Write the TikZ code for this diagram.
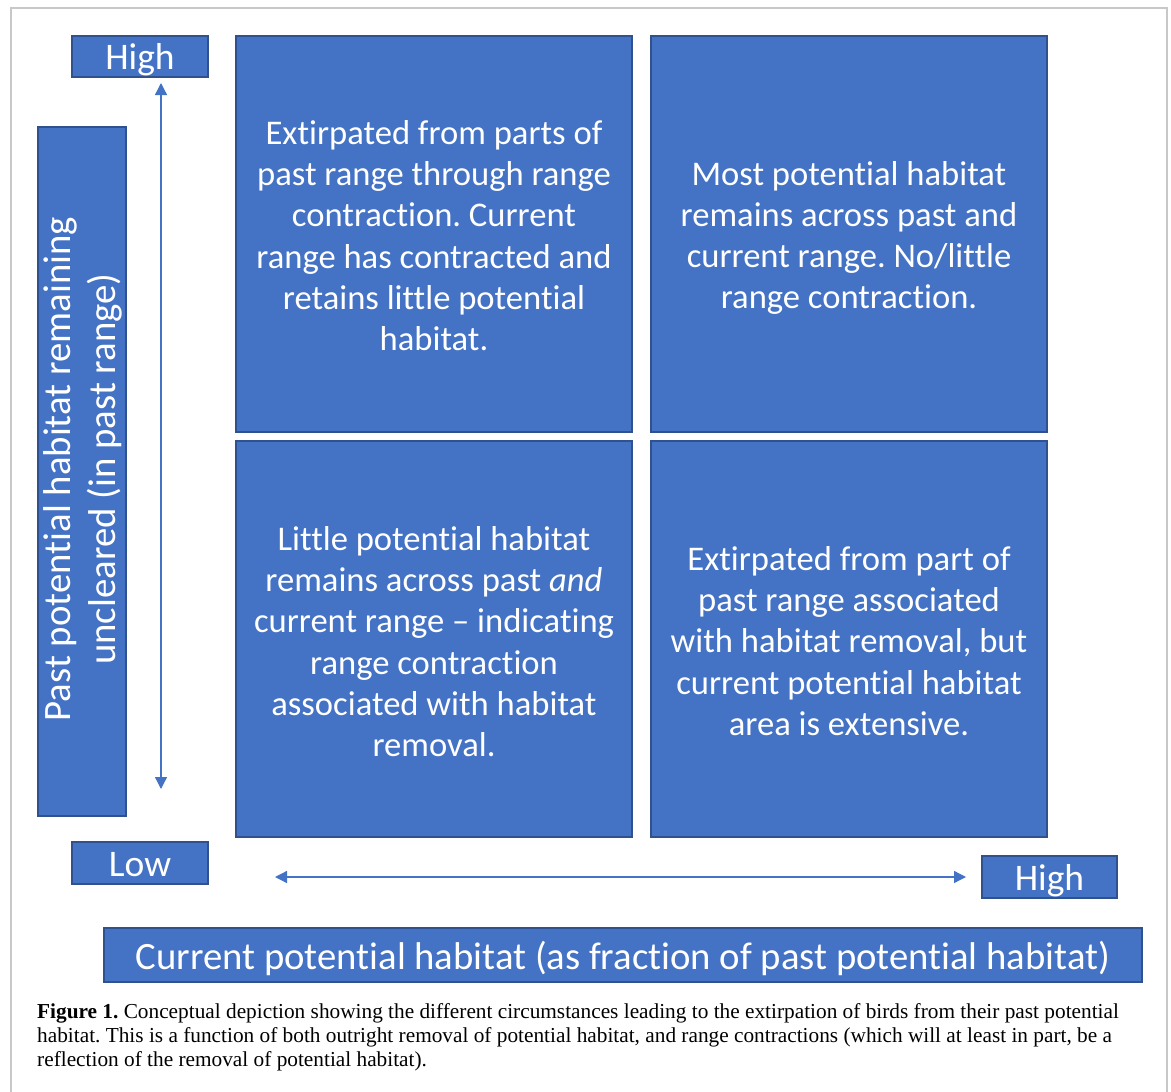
\documentclass[tikz,border=0pt]{standalone}
\usepackage{fontspec}
\setmainfont{Carlito}[Ligatures={NoCommon}]
\newfontfamily\capfont{Liberation Serif}
\usetikzlibrary{arrows.meta}
\definecolor{qblue}{HTML}{4472C4}
\definecolor{qedge}{HTML}{2F528F}
\definecolor{frame}{HTML}{C8C8C8}
\frenchspacing
\begin{document}
\begin{tikzpicture}[x=1pt,y=-1pt,
  box/.style={draw=qedge, fill=qblue, line width=1.5pt, text=white, inner sep=0pt, align=center},
  quad/.style={box, minimum width=396pt, minimum height=396pt},
  qtext/.style={text=white, inner sep=0pt, align=center, font=\fontsize{34.6}{41.3}\selectfont},
  lbl/.style={box, font=\fontsize{37.5}{44}\selectfont, text height=30pt, text depth=4pt},
  arr/.style={draw=qblue, line width=1.3pt, {Triangle[length=12pt,width=12pt]}-{Triangle[length=12pt,width=12pt]}}]
\useasboundingbox (0,0) rectangle (1171,1092);
\draw[frame, line width=2pt] (11,1092) -- (11,8) -- (1167,8) -- (1167,1092);
% quadrants
\node[quad] (tl) at (434,234) {};
\node[quad] (tr) at (849,234) {};
\node[quad] (bl) at (434,639) {};
\node[quad] (br) at (849,639) {};
\node[qtext] (tltext) at (434,235.5) {Extirpated from parts of\\past range through range\\contraction. Current\\range has contracted and\\retains little potential\\habitat.};
\node[qtext] (trtext) at (849,238) {Most potential habitat\\remains across past and\\current range. No/little\\range contraction.};
\node[qtext] (bltext) at (434,641.5) {Little potential habitat\\remains across past \emph{and}\\current range -- indicating\\range contraction\\associated with habitat\\removal.};
\node[qtext] (brtext) at (849,641) {Extirpated from part of\\past range associated\\with habitat removal, but\\current potential habitat\\area is extensive.};
% axis labels
\node[lbl, minimum width=136pt, minimum height=41pt] (yhigh) at (140,56.5) {High};
\node[lbl, minimum width=136pt, minimum height=42pt] (ylow) at (140,863) {Low};
\node[lbl, minimum width=135pt, minimum height=42pt] (xhigh) at (1049.5,877) {High};
\node[box, minimum width=88pt, minimum height=689pt] (ybox) at (82,471.5) {};
\node[text=white, rotate=90, align=center, font=\fontsize{38.8}{45}\selectfont, inner sep=0pt] (ylab) at (82.5,469) {Past potential habitat remaining\\uncleared (in past range)};
\node[box, minimum width=1038pt, minimum height=54pt, font=\fontsize{38.7}{44}\selectfont, text height=32pt, text depth=3pt] (xbox) at (623,955) {Current potential habitat (as fraction of past potential habitat)};
% arrows
\coordinate (vtop) at (161,83);
\coordinate (vbot) at (161,789);
\coordinate (hleft) at (275,877);
\coordinate (hright) at (966,877);
\draw[arr] (vbot) -- (vtop);
\draw[arr] (hleft) -- (hright);
% caption
\node[anchor=north west, inner sep=0pt, align=left, font=\capfont\fontsize{21.3}{24}\selectfont] (cap) at (37,1003) {\textbf{Figure 1.} Conceptual depiction showing the different circumstances leading to the extirpation of birds from their past potential\\habitat. This is a function of both outright removal of potential habitat, and range contractions (which will at least in part, be a\\reflection of the removal of potential habitat).};
\end{tikzpicture}
\end{document}
